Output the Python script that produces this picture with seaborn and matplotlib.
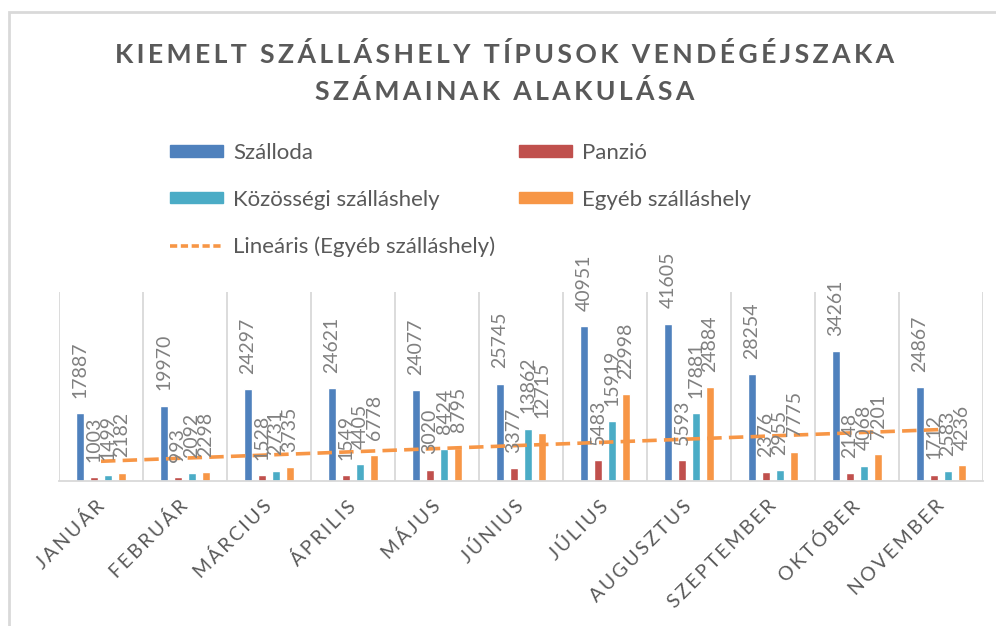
import numpy as np
import pandas as pd
import seaborn as sns
import matplotlib.pyplot as plt
from matplotlib.patches import Rectangle, Patch
from matplotlib.lines import Line2D

months = ["JANUÁR", "FEBRUÁR", "MÁRCIUS", "ÁPRILIS", "MÁJUS", "JÚNIUS",
          "JÚLIUS", "AUGUSZTUS", "SZEPTEMBER", "OKTÓBER", "NOVEMBER"]
szalloda = [17887, 19970, 24297, 24621, 24077, 25745, 40951, 41605, 28254, 34261, 24867]
panzio = [1003, 993, 1528, 1549, 3020, 3377, 5483, 5593, 2376, 2148, 1712]
kozossegi = [1499, 2092, 2731, 4405, 8424, 13862, 15919, 17881, 2955, 4068, 2583]
egyeb = [2182, 2298, 3735, 6778, 8795, 12715, 22998, 24884, 7775, 7201, 4236]
series = ["Szálloda", "Panzió", "Közösségi szálláshely", "Egyéb szálláshely"]
colors = ["#4f81bd", "#c0504d", "#4bacc6", "#f79646"]
title = "KIEMELT SZÁLLÁSHELY TÍPUSOK VENDÉGÉJSZAKA\nSZÁMAINAK ALAKULÁSA"

sns.set_style("white")
plt.rcParams['font.family'] = ['Lato', 'DejaVu Sans']

rows = []
for name, vals in zip(series, [szalloda, panzio, kozossegi, egyeb]):
    for m, v in zip(months, vals):
        rows.append({"month": m, "series": name, "value": v})
df = pd.DataFrame(rows)

def spaced(s, sp="\u200a"):
    return "\n".join(sp.join(line) for line in s.split("\n"))

fig = plt.figure(figsize=(9.96, 6.26), dpi=100)
ax = fig.add_axes([59/996, 1-481/626, (983-59)/996, (481-292)/626])

sns.barplot(data=df, x="month", y="value", hue="series", palette=colors,
            width=0.67, saturation=1, ax=ax, legend=False)

# thinner bars with gaps, like Excel
for p in ax.patches:
    w = p.get_width()
    p.set_x(p.get_x() + w*0.22)
    p.set_width(w*0.56)

for c in ax.containers:
    ax.bar_label(c, labels=[str(int(v)) for v in c.datavalues], rotation=90,
                 padding=11, fontsize=14, color="#808080")

x = np.arange(len(months))
k, b = np.polyfit(x, egyeb, 1)
ax.plot(x, k*x + b, color="#f79646", lw=2.6, ls=(0, (4, 2)))

ax.set_xlim(-0.5, len(months)-0.5)
ax.set_ylim(0, 50000)
ax.set_yticks([])
ax.set_ylabel("")
ax.set_xlabel("")
for xv in np.arange(-0.5, len(months), 1):
    ax.axvline(xv, color="#d9d9d9", lw=1.3, zorder=0)
for s in ["top", "left", "right"]:
    ax.spines[s].set_visible(False)
ax.spines["bottom"].set_color("#d9d9d9")
ax.spines["bottom"].set_linewidth(1.3)
ax.set_xticks(x)
ax.set_xticklabels([spaced(m, "\u2009") for m in months], rotation=45, ha="right",
                   va="center", rotation_mode="anchor", fontsize=14, color="#595959")
ax.tick_params(axis="x", length=0, pad=16)

fig.text(0.507, 1-73/626, spaced(title, "\u2009"), ha="center", va="center",
         fontsize=19.2, fontweight="bold", color="#595959", linespacing=1.6)

handles = [Patch(color=colors[0]), Patch(color=colors[2]),
           Line2D([], [], color="#f79646", lw=2.6, ls=(0, (2, 1))),
           Patch(color=colors[1]), Patch(color=colors[3])]
labels = ["Szálloda", "Közösségi szálláshely", "Lineáris (Egyéb szálláshely)",
          "Panzió", "Egyéb szálláshely"]
leg = fig.legend(handles, labels, ncol=2, loc="upper left",
                 bbox_to_anchor=(150/996, 1-123/626), frameon=False,
                 fontsize=16, labelcolor="#595959", handlelength=2.4,
                 handleheight=0.4, labelspacing=1.2, columnspacing=1.05,
                 handletextpad=0.45)

fig.add_artist(Rectangle((9/996, -0.05), 1.1, 1-12/626+0.05, transform=fig.transFigure,
                         fill=False, edgecolor="#d9d9d9", lw=2))

fig.savefig("out.png", dpi=100)
